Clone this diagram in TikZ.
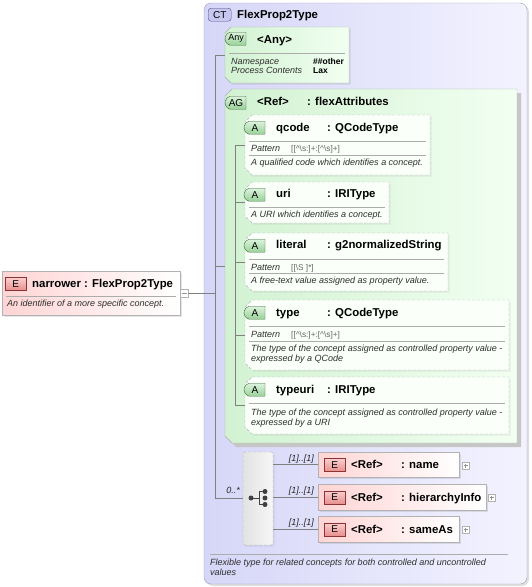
\documentclass[tikz,border=0pt]{standalone}
\usepackage{fontspec}
\setmainfont{Liberation Sans}
\usepackage{xcolor}
\usepackage{tikz}
\usetikzlibrary{positioning,calc,shapes.misc,shadows}
\definecolor{ctdark}{HTML}{D6D6F8}
\definecolor{ctlite}{HTML}{F3F3FF}
\definecolor{ctline}{HTML}{9C9CB8}
\definecolor{grdark}{HTML}{D2F2D2}
\definecolor{grlite}{HTML}{F2FFF2}
\definecolor{grline}{HTML}{A4B4A4}
\definecolor{attfill}{HTML}{FAFFFA}
\definecolor{bdglite}{HTML}{DDF3DD}
\definecolor{bdgreen}{HTML}{98D098}
\definecolor{bdgline}{HTML}{3C6A3C}
\definecolor{pkfill}{HTML}{FFD4D4}
\definecolor{bdrlite}{HTML}{FAD0D0}
\definecolor{bdred}{HTML}{E8908F}
\definecolor{bdrline}{HTML}{8C3434}
\definecolor{ctbfill}{HTML}{C6C6F0}
\definecolor{ctbline}{HTML}{50507E}
\definecolor{linkgray}{HTML}{808080}
\newcommand\nmfont{\bfseries\fontsize{11.4}{13}\selectfont}
\newcommand\dsfont{\itshape\fontsize{9}{11}\selectfont}
\newcommand\pvfont{\fontsize{8.3}{10}\selectfont}
\newcommand\bdfont{\fontsize{10}{12}\selectfont}
\newcommand\vlfont{\bfseries\fontsize{8.5}{10}\selectfont}
%% chamfered outline round a slot node: [cut]{style}{node}
\newcommand\chamfer[3][6]{\path[#2] ($(#3.north west)+(#1,0)$) -- (#3.north east) -- (#3.south east)
  -- ($(#3.south west)+(#1,0)$) -- ($(#3.south west)+(0,-#1)$) -- ($(#3.north west)+(0,#1)$) -- cycle;}
\tikzset{
  slot/.style={inner sep=0pt,outer sep=0pt},
  ctbox/.style={draw=ctline,rounded corners=7pt,left color=ctdark,right color=ctlite,inner sep=0pt,
    drop shadow={shadow xshift=2pt,shadow yshift=-2pt,opacity=.25}},
  grpbox/.style={draw=grline,left color=grdark,right color=grlite},
  attbox/.style={draw=gray!55,dash pattern=on 3pt off 2pt,fill=attfill,
    drop shadow={shadow xshift=1.5pt,shadow yshift=-1.5pt,opacity=.12}},
  elbox/.style={draw=gray!60,left color=pkfill,right color=white,inner sep=0pt,
    drop shadow={shadow xshift=1.5pt,shadow yshift=-1.5pt,opacity=.2}},
  seqbox/.style={draw=gray!60,dash pattern=on 3pt off 2pt,left color=gray!22,right color=gray!7,rounded corners=2pt,inner sep=0pt,
    drop shadow={shadow xshift=1.5pt,shadow yshift=-1.5pt,opacity=.15}},
  ctbadge/.style={draw=ctbline,fill=ctbfill,rounded corners=3pt,font=\bdfont,inner sep=0pt,minimum width=23,minimum height=13},
  grbadge/.style={rounded rectangle,rounded rectangle right arc=none,rounded rectangle arc length=150,draw=bdgline,
    top color=bdglite,bottom color=bdgreen,font=\bdfont,inner sep=0pt,minimum width=21,minimum height=13},
  ebadge/.style={draw=bdrline,top color=bdrlite,bottom color=bdred,font=\bdfont,inner sep=0pt,minimum width=21,minimum height=13},
  nm/.style={font=\nmfont,inner sep=0pt,anchor=base west},
  ds/.style={font=\dsfont,text=black!82,inner sep=0pt,anchor=base west},
  pv/.style={font=\pvfont,text=black!60,inner sep=0pt,anchor=base west},
  vl/.style={font=\vlfont,inner sep=0pt,anchor=base west},
  lbl/.style={font=\dsfont,text=black!85,inner sep=0pt,anchor=base east},
  sepline/.style={draw=gray!65,line width=0.6pt},
  link/.style={draw=linkgray,line width=0.6pt},
  icon/.style={fill=black!75,draw=black!75,line width=0.9pt},
  plusbox/.style={draw=gray!60,fill=white,inner sep=0pt,minimum size=7,
    path picture={\draw[gray!85] ([xshift=1.5pt]path picture bounding box.west) -- ([xshift=-1.5pt]path picture bounding box.east)
      ([yshift=-1.5pt]path picture bounding box.north) -- ([yshift=1.5pt]path picture bounding box.south);}},
  minusbox/.style={draw=gray!60,fill=white,inner sep=0pt,minimum size=8,
    path picture={\draw[gray!85] ([xshift=1.5pt]path picture bounding box.west) -- ([xshift=-1.5pt]path picture bounding box.east);}}
}
\begin{document}
\begin{tikzpicture}[x=1pt,y=-1pt]
  \useasboundingbox (0,0) rectangle (532,587);
  %% complex type frame
  \node[ctbox,minimum width=323,minimum height=581] (ct) at (365.5,293.5) {};
  \node[ctbadge,anchor=north west] (ctB) at (208,8) {CT};
  \node[nm] (ctN) at (237,18) {FlexProp2Type};
  %% any
  \node[slot,minimum width=124,minimum height=56] (any) at (287,55) {};
  \chamfer{grpbox,drop shadow={shadow xshift=1.5pt,shadow yshift=-1.5pt,opacity=.2}}{any}
  \node[grbadge,anchor=north west,font=\fontsize{9}{11}\selectfont] (anyB) at (230,32) {Any};
  \node[nm] (anyN) at (257,43) {<Any>};
  \draw[sepline] (229,53) -- (345,53);
  \node[ds] (anyK1) at (231,64.5) {Namespace};
  \node[vl] (anyV1) at (313,64.5) {\#\#other};
  \node[ds] (anyK2) at (231,73.5) {Process Contents};
  \node[vl] (anyV2) at (313,73.5) {Lax};
  %% attribute group
  \node[slot,minimum width=292,minimum height=354] (ag) at (371,266) {};
  \chamfer[7]{grpbox,drop shadow={shadow xshift=4pt,shadow yshift=-4pt,fill=gray!45,opacity=1}}{ag}
  \node[grbadge,anchor=north west] (agB) at (230,96) {AG};
  \node[nm] (agN) at (257,105) {<Ref>};
  \node[nm] (agT) at (307,105) {: flexAttributes};
  %% qcode
  \node[slot,minimum width=185,minimum height=60] (qcode) at (337.5,145) {};
  \chamfer[7]{attbox}{qcode}
  \node[grbadge,anchor=north west] (qcodeB) at (249,121) {A};
  \node[nm] (qcodeN) at (276,131) {qcode};
  \node[nm] (qcodeT) at (327,131) {: QCodeType};
  \draw[sepline] (249,141) -- (426,141);
  \node[ds] (qcodeP) at (251,151.5) {Pattern};
  \node[pv] (qcodeV) at (291,151.5) {[[\textasciicircum\textbackslash s:]+:[\textasciicircum\textbackslash s]+]};
  \draw[sepline] (249,155) -- (426,155);
  \node[ds] (qcodeD) at (251,165.5) {A qualified code which identifies a concept.};
  %% uri
  \node[slot,minimum width=144,minimum height=41] (uri) at (317,202.5) {};
  \chamfer[7]{attbox}{uri}
  \node[grbadge,anchor=north west] (uriB) at (249,188) {A};
  \node[nm] (uriN) at (276,197) {uri};
  \node[nm] (uriT) at (327,197) {: IRIType};
  \draw[sepline] (249,207) -- (385,207);
  \node[ds] (uriD) at (251,217.5) {A URI which identifies a concept.};
  %% literal
  \node[slot,minimum width=203,minimum height=58] (literal) at (346.5,262) {};
  \chamfer[7]{attbox}{literal}
  \node[grbadge,anchor=north west] (literalB) at (249,239) {A};
  \node[nm] (literalN) at (276,248) {literal};
  \node[nm] (literalT) at (327,248) {: g2normalizedString};
  \draw[sepline] (249,259) -- (444,259);
  \node[ds] (literalP) at (251,270) {Pattern};
  \node[pv] (literalV) at (291,270) {[[\textbackslash S ]*]};
  \draw[sepline] (249,273) -- (444,273);
  \node[ds] (literalD) at (251,283.5) {A free-text value assigned as property value.};
  %% type
  \node[slot,minimum width=264,minimum height=70] (type) at (377,335) {};
  \chamfer[7]{attbox}{type}
  \node[grbadge,anchor=north west] (typeB) at (249,306) {A};
  \node[nm] (typeN) at (276,316) {type};
  \node[nm] (typeT) at (327,316) {: QCodeType};
  \draw[sepline] (249,326) -- (505,326);
  \node[ds] (typeP) at (251,337) {Pattern};
  \node[pv] (typeV) at (291,337) {[[\textasciicircum\textbackslash s:]+:[\textasciicircum\textbackslash s]+]};
  \draw[sepline] (249,341) -- (505,341);
  \node[ds] (typeD1) at (251,351) {The type of the concept assigned as controlled property value -};
  \node[ds] (typeD2) at (251,361.5) {expressed by a QCode};
  %% typeuri
  \node[slot,minimum width=264,minimum height=57] (typeuri) at (377,405.5) {};
  \chamfer[7]{attbox}{typeuri}
  \node[grbadge,anchor=north west] (typeuriB) at (249,383) {A};
  \node[nm] (typeuriN) at (276,393) {typeuri};
  \node[nm] (typeuriT) at (327,393) {: IRIType};
  \draw[sepline] (249,403) -- (505,403);
  \node[ds] (typeuriD1) at (251,415) {The type of the concept assigned as controlled property value -};
  \node[ds] (typeuriD2) at (251,425.5) {expressed by a URI};
  %% attribute links
  \coordinate (agJ) at (235.5,266);
  \draw[link] (agJ |- qcode.west) -- (agJ |- typeuri.west);
  \foreach \a in {qcode,uri,literal,type,typeuri}
    \draw[link] (agJ |- \a.west) -- (\a.west);
  %% sequence
  \node[seqbox,minimum width=30,minimum height=93] (seq) at (258,498.5) {};
  \fill[icon] (251,498) circle (2);
  \draw[icon] (251,498) -- (259,498) (259,491.5) -- (259,504.5)
    (259,491.5) -- (265,491.5) (259,504.5) -- (265,504.5);
  \fill[icon] (265,491.5) circle (2) (265,498) circle (2) (265,504.5) circle (2);
  %% elements
  \node[elbox,minimum width=141,minimum height=25] (name) at (388.5,464.5) {};
  \node[ebadge,anchor=north west] (nameB) at (324,458) {E};
  \node[nm] (nameN) at (351,468.5) {<Ref>};
  \node[nm] (nameT) at (401,468.5) {: name};
  \node[plusbox] (nameP) at (465.5,465.5) {};
  \node[elbox,minimum width=168,minimum height=26] (hier) at (402,497) {};
  \node[ebadge,anchor=north west] (hierB) at (324,490.5) {E};
  \node[nm] (hierN) at (351,501) {<Ref>};
  \node[nm] (hierT) at (401,501) {: hierarchyInfo};
  \node[plusbox] (hierP) at (491.5,497.5) {};
  \node[elbox,minimum width=141,minimum height=26] (same) at (388.5,529) {};
  \node[ebadge,anchor=north west] (sameB) at (324,522.5) {E};
  \node[nm] (sameN) at (351,533) {<Ref>};
  \node[nm] (sameT) at (401,533) {: sameAs};
  \node[plusbox] (sameP) at (465.5,529.5) {};
  \foreach \e/\y in {name/461.5,hier/493.5,same/525.5}{
    \draw[link] (seq.east |- \e.west) -- (\e.west);
    \node[lbl] at (314,\y) {[1]..[1]};
  }
  %% footer
  \draw[sepline] (210,554) -- (508,554);
  \node[ds] (ctD1) at (210,565.5) {Flexible type for related concepts for both controlled and uncontrolled};
  \node[ds] (ctD2) at (210,575.5) {values};
  %% narrower
  \node[elbox,minimum width=178,minimum height=44] (narrower) at (91,293) {};
  \node[ebadge,anchor=north west] (narrowerB) at (5,277) {E};
  \node[nm] (narrowerN) at (32,287) {narrower : FlexProp2Type};
  \draw[sepline] (6,296) -- (176,296);
  \node[ds] (narrowerD) at (7,306.5) {An identifier of a more specific concept.};
  \node[minusbox] (narrowerM) at (184,293) {};
  %% main links
  \coordinate (ctJ) at (215.5,293);
  \draw[link] (narrowerM.east) -- (ctJ);
  \draw[link] (ctJ |- any.west) -- (ctJ |- seq.west);
  \foreach \b in {any,ag,seq}
    \draw[link] (ctJ |- \b.west) -- (\b.west);
  \node[lbl] (seqM) at (240,493.5) {0..*};
\end{tikzpicture}
\end{document}
